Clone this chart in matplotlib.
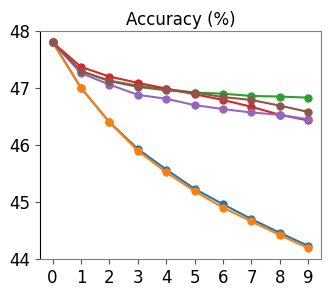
import matplotlib
matplotlib.use("Agg")
import matplotlib.pyplot as plt

# x positions (steps)
steps = list(range(10))

# series values
blueVals = [47.81, 47.00, 46.40, 45.93, 45.57, 45.23, 44.96, 44.70, 44.46, 44.23]
orangeVals = [47.80, 47.00, 46.40, 45.90, 45.52, 45.19, 44.90, 44.66, 44.42, 44.19]
greenVals = [47.80, 47.29, 47.13, 47.04, 46.98, 46.92, 46.90, 46.86, 46.85, 46.83]
redVals = [47.80, 47.37, 47.20, 47.09, 46.99, 46.89, 46.79, 46.67, 46.53, 46.43]
purpleVals = [47.80, 47.26, 47.06, 46.88, 46.81, 46.70, 46.63, 46.57, 46.53, 46.45]
brownVals = [47.80, 47.30, 47.12, 47.02, 46.96, 46.92, 46.84, 46.79, 46.69, 46.58]

seriesList = [blueVals, orangeVals, greenVals, redVals, purpleVals, brownVals]
colorList = ["tab:blue", "tab:orange", "tab:green", "tab:red", "tab:purple", "tab:brown"]

fig = plt.figure(figsize=(3.32, 2.95), dpi=100)
ax = fig.add_axes([0.12, 0.122, 0.847, 0.773])

for vals, col in zip(seriesList, colorList):
    ax.plot(steps, vals, marker="o", markersize=5, linewidth=1.5, color=col)

ax.set_ylim(44, 48)
ax.set_yticks([44, 45, 46, 47, 48])
ax.set_xticks(steps)
ax.tick_params(labelsize=12, color="#555555")
ax.set_title("Accuracy (%)", fontsize=12, pad=4)

for side in ["top", "right", "bottom"]:
    ax.spines[side].set_color("#808080")
ax.spines["left"].set_color("black")

fig.savefig("out.png", dpi=100)
